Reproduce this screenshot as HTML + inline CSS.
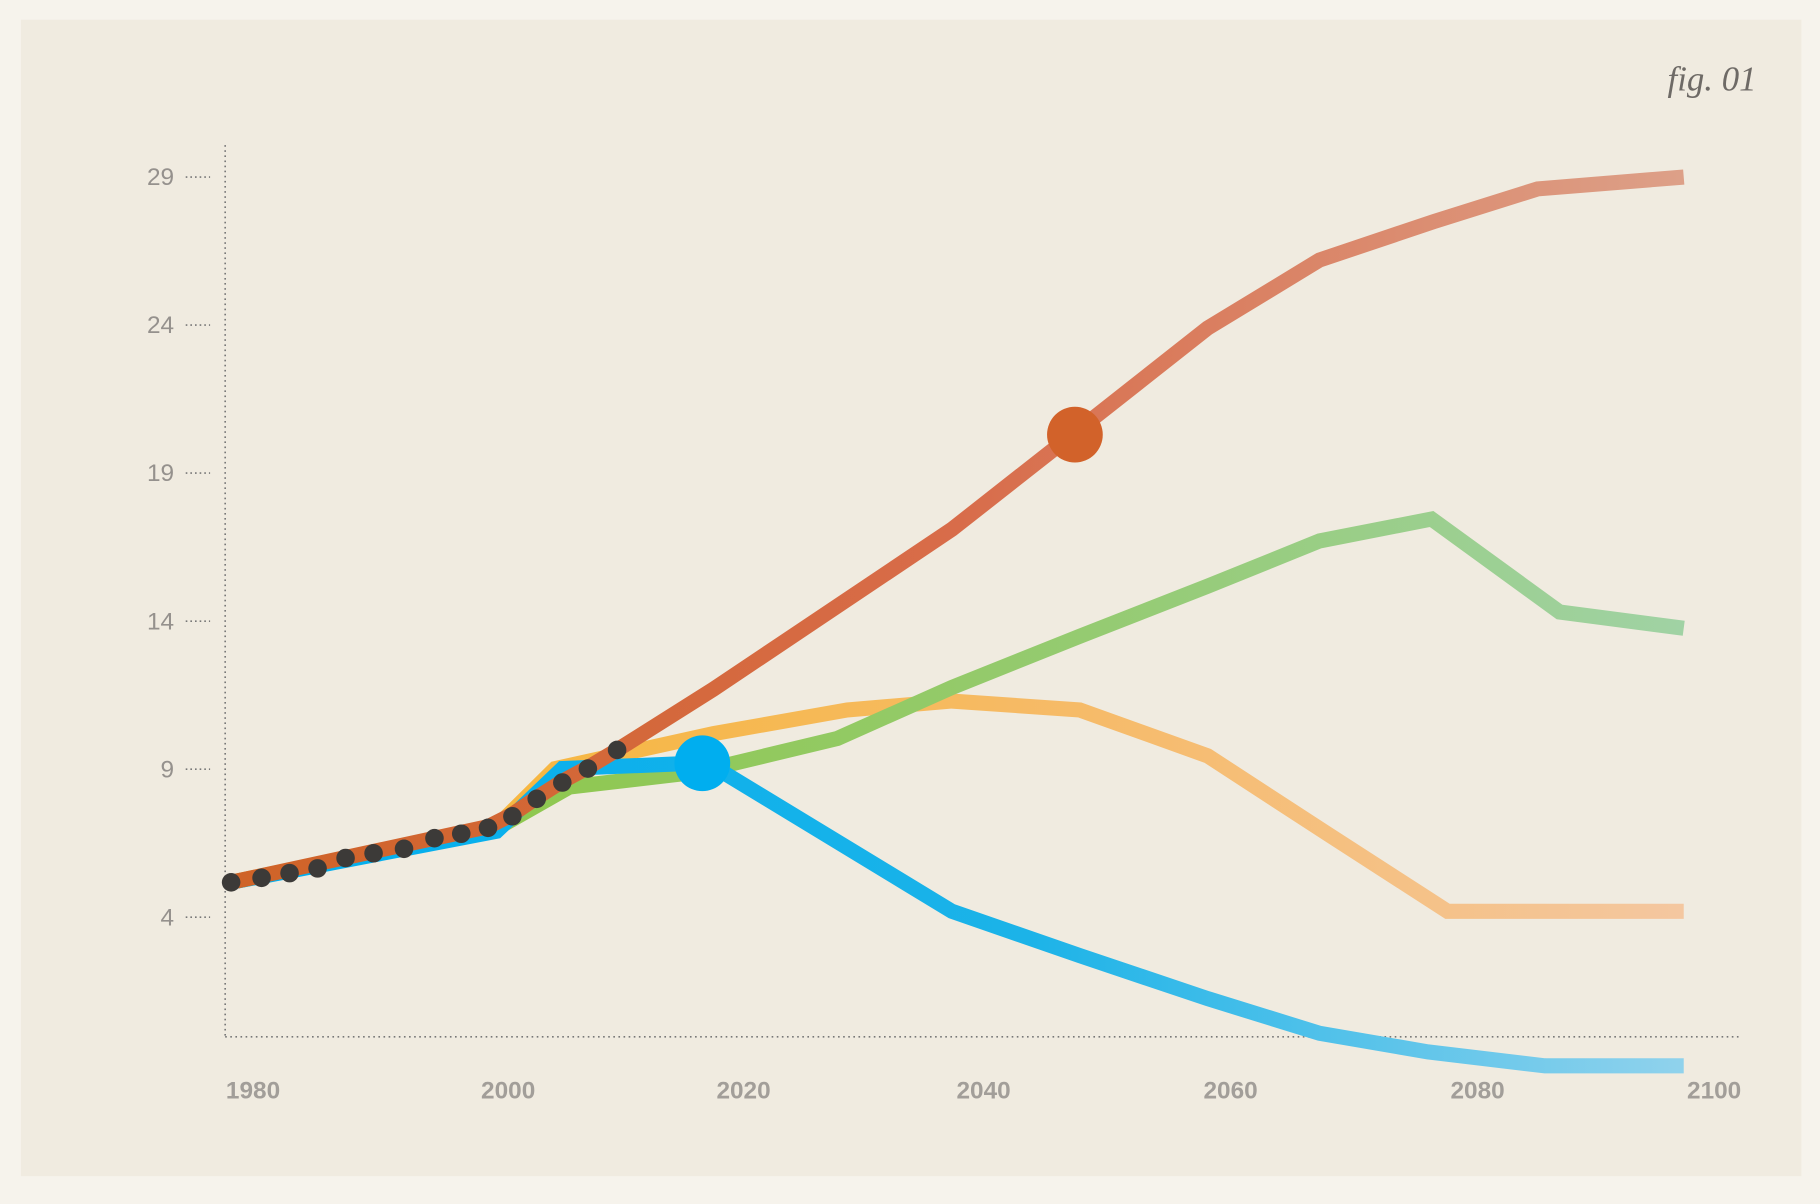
<!DOCTYPE html>
<html><head><meta charset="utf-8"><style>
html,body{margin:0;padding:0;background:#f6f3ec;}
svg{display:block;}
</style></head><body>
<svg id="chart" width="1820" height="1204" viewBox="0 0 1568 1037" preserveAspectRatio="none" xmlns="http://www.w3.org/2000/svg">
<defs>
<linearGradient id="gRed" gradientUnits="userSpaceOnUse" x1="199" y1="0" x2="1450" y2="0"><stop offset="0" stop-color="#cf6327"/><stop offset="0.5" stop-color="#d86c4a"/><stop offset="1" stop-color="#dda088"/></linearGradient>
<linearGradient id="gOrange" gradientUnits="userSpaceOnUse" x1="199" y1="0" x2="1450" y2="0"><stop offset="0" stop-color="#f7b52e"/><stop offset="0.6" stop-color="#f6bb6a"/><stop offset="1" stop-color="#f4c7a0"/></linearGradient>
<linearGradient id="gGreen" gradientUnits="userSpaceOnUse" x1="199" y1="0" x2="1450" y2="0"><stop offset="0" stop-color="#8cc63f"/><stop offset="0.6" stop-color="#95cb72"/><stop offset="1" stop-color="#a0d2a4"/></linearGradient>
<linearGradient id="gBlue" gradientUnits="userSpaceOnUse" x1="199" y1="0" x2="1450" y2="0"><stop offset="0" stop-color="#00aeef"/><stop offset="0.55" stop-color="#1cb3e8"/><stop offset="1" stop-color="#90d2ec"/></linearGradient>
</defs>
<rect x="18" y="17" width="1534" height="996" fill="#f0ebe0"/>
<text x="1475" y="78" text-anchor="middle" font-family="'Liberation Serif', serif" font-style="italic" font-size="30" fill="#6e6a66">fig. 01</text>
<g id="axes"></g>
<g id="series"></g>
<g id="marks"></g>
</svg>
<script>
const yTicks = [4, 9, 14, 19, 24, 29];
const xTicks = [1980, 2000, 2020, 2040, 2060, 2080, 2100];
const histYears = [1978.2, 1999.3, 2001.2, 2003.3, 2005.4, 2007.5, 2009.9];
const histValues = [5.18, 7.06, 7.45, 8.04, 8.59, 9.06, 9.65];
const redYears = [2017.8, 2037.4, 2047.9, 2058.4, 2067.6, 2077.0, 2085.5, 2097.5];
const redValues = [11.7, 17.1, 20.5, 23.9, 26.2, 27.5, 28.6, 29.0];
const orangeYears = [1978.2, 2000.0, 2004.8, 2017.8, 2028.8, 2037.4, 2047.9, 2058.4, 2068.3, 2078.1, 2097.5];
const orangeValues = [5.18, 7.06, 9.02, 10.2, 11.0, 11.3, 11.0, 9.45, 6.8, 4.2, 4.2];
const blueYears = [1978.2, 2000.0, 2005.4, 2017.3, 2037.4, 2047.9, 2058.4, 2067.6, 2076.5, 2086.1, 2097.5];
const blueValues = [5.18, 6.9, 9.02, 9.22, 4.2, 2.7, 1.25, 0.08, -0.55, -1.02, -1.02];
const greenYears = [1978.2, 2000.0, 2006.0, 2016.5, 2028.0, 2037.4, 2047.9, 2058.4, 2067.6, 2076.8, 2087.3, 2097.5];
const greenValues = [5.18, 7.0, 8.4, 8.9, 10.04, 11.76, 13.49, 15.18, 16.71, 17.45, 14.31, 13.76];
const dotYears = [1978.2, 1980.7, 1983.0, 1985.3, 1987.6, 1989.9, 1992.4, 1994.9, 1997.1, 1999.3, 2001.3, 2003.3, 2005.4, 2007.5, 2009.9];
const dotValues = [5.18, 5.33, 5.49, 5.65, 6.0, 6.16, 6.31, 6.67, 6.82, 7.02, 7.41, 8.0, 8.55, 9.02, 9.65];
const redMarker = [2047.5, 20.3];
const blueMarker = [2016.9, 9.2];
const xLabelOffsets = [0, 10, 3, 0, 3, 6, 0];

const NS = 'http://www.w3.org/2000/svg';
const x = yr => 218 + (yr - 1980) * 10.49;
const y = v => 892 - v * 25.5;
function mk(tag, attrs, parent){const e=document.createElementNS(NS,tag);for(const k in attrs)e.setAttribute(k,attrs[k]);parent.appendChild(e);return e;}
const axes = document.getElementById('axes');
const series = document.getElementById('series');
const marks = document.getElementById('marks');

const yl = mk('line',{x1:194,y1:125,x2:194,y2:893,stroke:'#777','stroke-width':1.4,'stroke-dasharray':'1.4 3'},axes);


const xl = mk('line',{x1:194,y1:893,x2:1500,y2:893,stroke:'#777','stroke-width':1.4,'stroke-dasharray':'1.4 3'},axes);


yTicks.forEach(t=>{
  const tl = mk('line',{x1:160,y1:y(t),x2:181,y2:y(t),stroke:'#777','stroke-width':1.4,'stroke-dasharray':'1.4 2.6'},axes);
  
  
  const tx = mk('text',{x:150,y:y(t)+7,'text-anchor':'end','font-family':"'Liberation Sans', sans-serif",'font-size':21,fill:'#95918d'},axes);
  tx.textContent = t;
  
  
});
xTicks.forEach((t,i)=>{
  const tx = mk('text',{x:x(t)+xLabelOffsets[i],y:946,'text-anchor':'middle','font-family':"'Liberation Sans', sans-serif",'font-size':21,'font-weight':'bold',fill:'#a29e99'},axes);
  tx.textContent = t;
  
  
});
function pathD(ys, vs){return ys.map((yr,i)=>(i?'L':'M')+x(yr).toFixed(1)+' '+y(vs[i]).toFixed(1)).join(' ');}
function line(ys, vs, stroke, name){
  const p = mk('path',{d:pathD(ys,vs),fill:'none',stroke:stroke,'stroke-width':13,'stroke-linejoin':'miter','stroke-linecap':'butt'},series);
  
  
}
line(orangeYears, orangeValues, 'url(#gOrange)', 'orange-series-line');
line(greenYears, greenValues, 'url(#gGreen)', 'green-series-line');
line(blueYears, blueValues, 'url(#gBlue)', 'blue-series-line');
line(histYears.concat(redYears), histValues.concat(redValues), 'url(#gRed)', 'red-series-line');
dotYears.forEach((yr,i)=>{
  const c = mk('circle',{cx:x(yr),cy:y(dotValues[i]),r:8,fill:'#3c3a38'},marks);
  
  
});
const rm = mk('circle',{cx:x(redMarker[0]),cy:y(redMarker[1]),r:24,fill:'#d2622a'},marks);


const bm = mk('circle',{cx:x(blueMarker[0]),cy:y(blueMarker[1]),r:24,fill:'#00aeef'},marks);


</script>
</body></html>
